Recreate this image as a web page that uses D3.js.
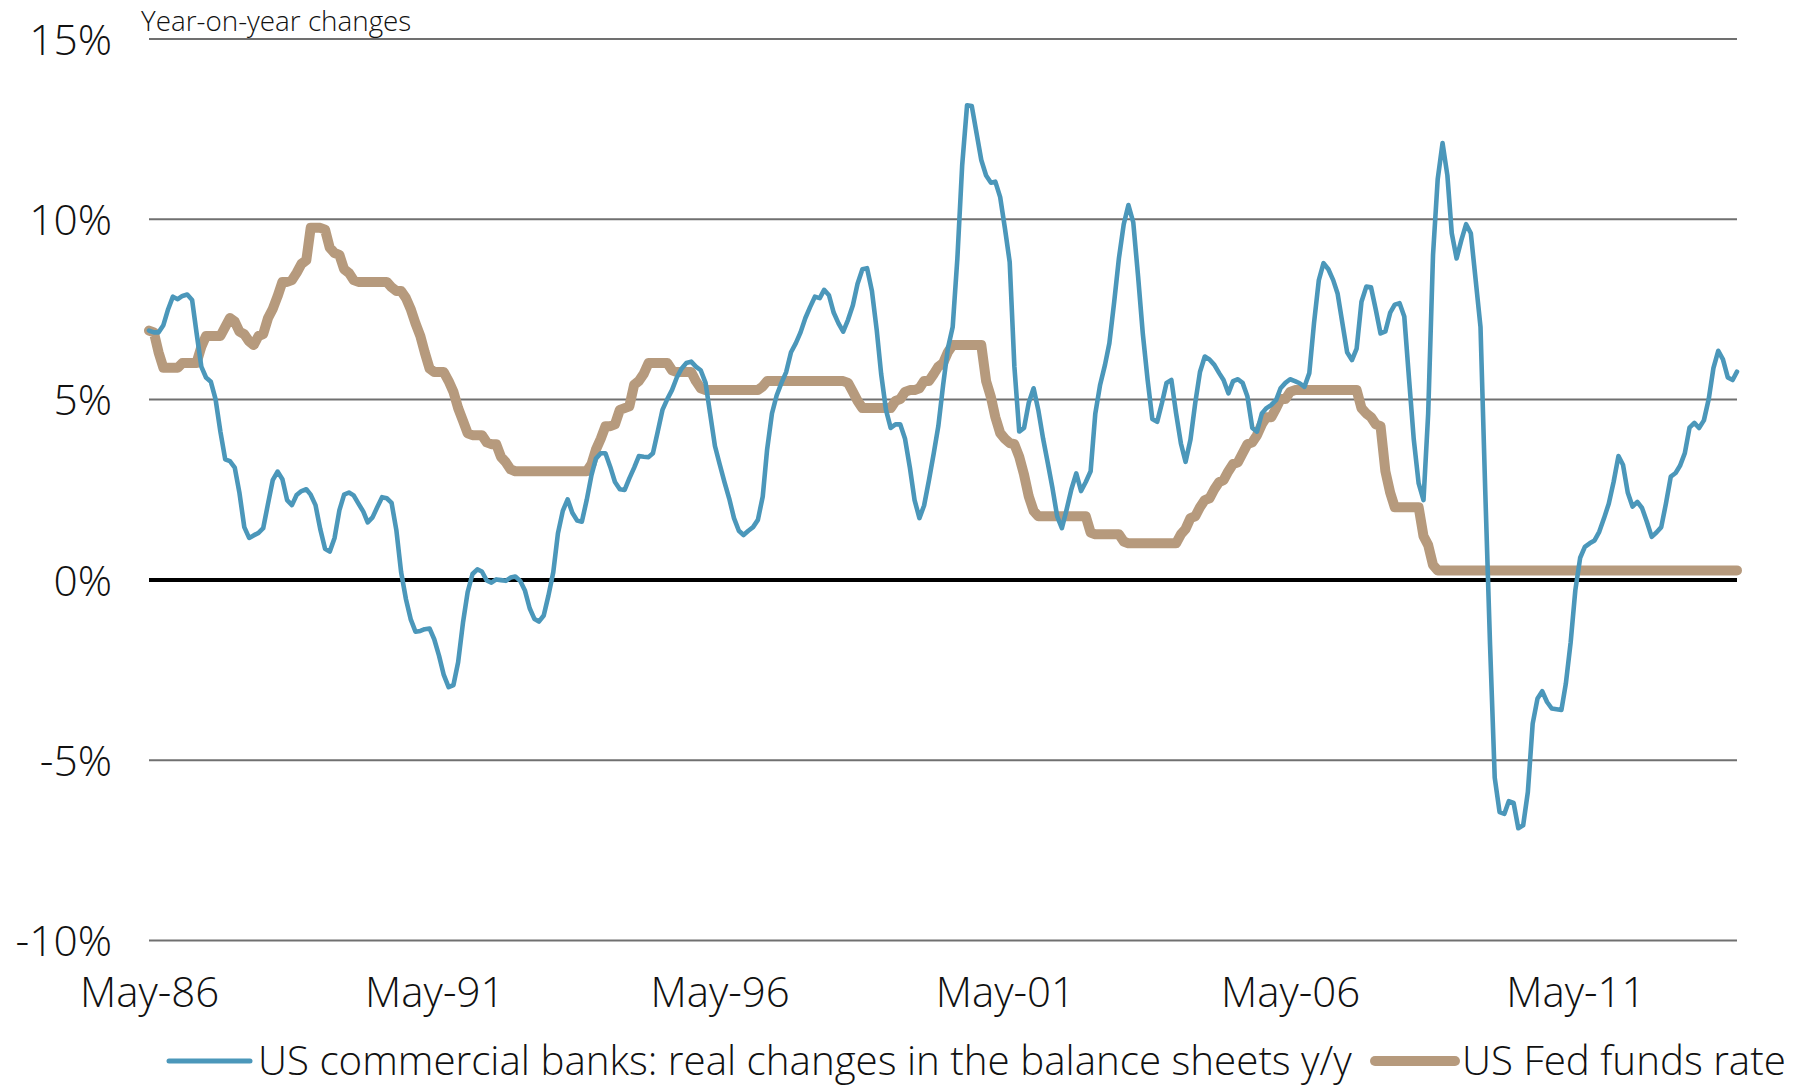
<!DOCTYPE html>
<html>
<head>
<meta charset="utf-8">
<script src="https://cdn.jsdelivr.net/npm/d3@7"></script>
<style>
  html, body { margin: 0; padding: 0; background: #ffffff; }
  svg { display: block; font-family: "Open Sans", "Noto Sans", sans-serif; }
</style>
</head>
<body>
<svg id="chart" width="1801" height="1087"></svg>
<script>
// Monthly observations, first month May 1986, last month March 2014
const firstMonth = new Date(1986, 4, 1);

// US commercial banks: real changes in the balance sheets y/y (%)
const bankBalanceSheets = [
  6.9, 6.85, 6.85, 7.05, 7.5, 7.84, 7.77, 7.86, 7.9, 7.75,
  6.85, 5.9, 5.6, 5.48, 5.0, 4.1, 3.33, 3.28, 3.1, 2.4,
  1.45, 1.15, 1.22, 1.29, 1.42, 2.1, 2.75, 2.99, 2.78, 2.2,
  2.06, 2.34, 2.45, 2.5, 2.35, 2.06, 1.4, 0.85, 0.77, 1.15,
  1.92, 2.35, 2.41, 2.33, 2.1, 1.88, 1.58, 1.72, 2.0, 2.28,
  2.25, 2.12, 1.35, 0.2, -0.55, -1.1, -1.45, -1.43, -1.38, -1.36,
  -1.66, -2.12, -2.65, -2.99, -2.93, -2.3, -1.2, -0.35, 0.15, 0.28,
  0.22, -0.03, -0.09, 0.0, -0.02, -0.04, 0.05, 0.08, -0.04, -0.3,
  -0.8, -1.1, -1.17, -1.0, -0.45, 0.2, 1.28, 1.9, 2.22, 1.85,
  1.63, 1.6, 2.2, 2.9, 3.35, 3.5, 3.5, 3.12, 2.7, 2.5,
  2.48, 2.8, 3.1, 3.42, 3.4, 3.39, 3.5, 4.1, 4.7, 5.0,
  5.25, 5.6, 5.85, 6.0, 6.04, 5.9, 5.8, 5.45, 4.6, 3.7,
  3.2, 2.7, 2.25, 1.7, 1.35, 1.23, 1.35, 1.45, 1.65, 2.3,
  3.6, 4.6, 5.1, 5.45, 5.75, 6.3, 6.55, 6.85, 7.25, 7.55,
  7.84, 7.8, 8.03, 7.88, 7.4, 7.1, 6.87, 7.2, 7.6, 8.2,
  8.6, 8.63, 8.0, 6.9, 5.7, 4.7, 4.2, 4.3, 4.3, 3.9,
  3.1, 2.2, 1.7, 2.05, 2.75, 3.5, 4.25, 5.4, 6.4, 7.0,
  8.9, 11.5, 13.15, 13.13, 12.37, 11.63, 11.2, 11.0, 11.03, 10.6,
  9.75, 8.8, 5.9, 4.1, 4.2, 4.9, 5.3, 4.7, 3.9, 3.2,
  2.55, 1.75, 1.42, 1.95, 2.5, 2.94, 2.45, 2.7, 3.0, 4.6,
  5.4, 5.95, 6.55, 7.7, 8.9, 9.85, 10.38, 9.9, 8.4, 6.82,
  5.53, 4.45, 4.37, 4.9, 5.45, 5.53, 4.61, 3.77, 3.26, 3.87,
  4.9, 5.75, 6.18, 6.1, 5.95, 5.72, 5.53, 5.16, 5.5, 5.55,
  5.45, 5.07, 4.2, 4.1, 4.6, 4.75, 4.84, 4.98, 5.3, 5.45,
  5.55, 5.5, 5.44, 5.34, 5.72, 7.1, 8.3, 8.77, 8.6, 8.3,
  7.93, 7.1, 6.3, 6.08, 6.4, 7.7, 8.12, 8.1, 7.47, 6.82,
  6.88, 7.4, 7.62, 7.66, 7.29, 5.53, 3.87, 2.66, 2.2, 4.6,
  9.0, 11.1, 12.1, 11.2, 9.6, 8.9, 9.4, 9.85, 9.6, 8.3,
  7.0, 2.5, -1.8, -5.5, -6.45, -6.5, -6.15, -6.2, -6.9, -6.82,
  -5.9, -4.0, -3.3, -3.1, -3.4, -3.58, -3.6, -3.62, -2.9, -1.75,
  -0.3, 0.6, 0.9, 1.0, 1.08, 1.32, 1.7, 2.1, 2.7, 3.42,
  3.18, 2.4, 2.02, 2.15, 1.98, 1.6, 1.18, 1.3, 1.45, 2.1,
  2.85, 2.95, 3.15, 3.5, 4.21, 4.34, 4.2, 4.41, 5.0, 5.86,
  6.34, 6.1, 5.6, 5.53, 5.76
];

// US Fed funds rate (%)
const fedFundsRate = [
  6.9, 6.85, 6.3, 5.87, 5.87, 5.87, 5.87, 6.0, 6.0, 6.0,
  6.0, 6.45, 6.75, 6.75, 6.75, 6.75, 7.0, 7.25, 7.15, 6.87,
  6.8, 6.6, 6.5, 6.75, 6.8, 7.25, 7.5, 7.85, 8.25, 8.25,
  8.3, 8.5, 8.75, 8.85, 9.75, 9.75, 9.75, 9.7, 9.2, 9.05,
  9.0, 8.6, 8.5, 8.3, 8.25, 8.25, 8.25, 8.25, 8.25, 8.25,
  8.25, 8.1, 8.0, 8.0, 7.8, 7.5, 7.1, 6.75, 6.3, 5.85,
  5.75, 5.75, 5.75, 5.5, 5.2, 4.75, 4.4, 4.05, 4.0, 4.0,
  4.0, 3.8, 3.75, 3.75, 3.4, 3.25, 3.05, 3.0, 3.0, 3.0,
  3.0, 3.0, 3.0, 3.0, 3.0, 3.0, 3.0, 3.0, 3.0, 3.0,
  3.0, 3.0, 3.0, 3.2, 3.6, 3.9, 4.25, 4.25, 4.3, 4.7,
  4.75, 4.8, 5.4, 5.5, 5.7, 6.0, 6.0, 6.0, 6.0, 6.0,
  5.8, 5.75, 5.75, 5.75, 5.75, 5.5, 5.3, 5.25, 5.25, 5.25,
  5.25, 5.25, 5.25, 5.25, 5.25, 5.25, 5.25, 5.25, 5.25, 5.35,
  5.5, 5.5, 5.5, 5.5, 5.5, 5.5, 5.5, 5.5, 5.5, 5.5,
  5.5, 5.5, 5.5, 5.5, 5.5, 5.5, 5.5, 5.45, 5.2, 4.95,
  4.75, 4.75, 4.75, 4.75, 4.75, 4.75, 4.75, 4.95, 5.0, 5.2,
  5.25, 5.25, 5.3, 5.5, 5.5, 5.7, 5.9, 6.0, 6.3, 6.5,
  6.5, 6.5, 6.5, 6.5, 6.5, 6.5, 5.5, 5.05, 4.5, 4.06,
  3.9, 3.78, 3.75, 3.4, 2.9, 2.3, 1.9, 1.75, 1.75, 1.75,
  1.75, 1.75, 1.75, 1.75, 1.75, 1.75, 1.75, 1.75, 1.3, 1.25,
  1.25, 1.25, 1.25, 1.25, 1.25, 1.05, 1.0, 1.0, 1.0, 1.0,
  1.0, 1.0, 1.0, 1.0, 1.0, 1.0, 1.0, 1.25, 1.4, 1.7,
  1.75, 2.0, 2.2, 2.25, 2.5, 2.7, 2.75, 3.0, 3.2, 3.25,
  3.5, 3.75, 3.8, 4.0, 4.3, 4.5, 4.5, 4.75, 5.0, 5.0,
  5.2, 5.25, 5.25, 5.25, 5.25, 5.25, 5.25, 5.25, 5.25, 5.25,
  5.25, 5.25, 5.25, 5.25, 5.25, 4.75, 4.6, 4.5, 4.3, 4.25,
  3.0, 2.4, 2.0, 2.0, 2.0, 2.0, 2.0, 2.0, 1.2, 0.95,
  0.4, 0.25, 0.25, 0.25, 0.25, 0.25, 0.25, 0.25, 0.25, 0.25,
  0.25, 0.25, 0.25, 0.25, 0.25, 0.25, 0.25, 0.25, 0.25, 0.25,
  0.25, 0.25, 0.25, 0.25, 0.25, 0.25, 0.25, 0.25, 0.25, 0.25,
  0.25, 0.25, 0.25, 0.25, 0.25, 0.25, 0.25, 0.25, 0.25, 0.25,
  0.25, 0.25, 0.25, 0.25, 0.25, 0.25, 0.25, 0.25, 0.25, 0.25,
  0.25, 0.25, 0.25, 0.25, 0.25, 0.25, 0.25, 0.25, 0.25, 0.25,
  0.25, 0.25, 0.25, 0.25, 0.25
];

// Axis ticks
const xTickDates = [new Date(1986, 4, 1), new Date(1991, 4, 1), new Date(1996, 4, 1),
                    new Date(2001, 4, 1), new Date(2006, 4, 1), new Date(2011, 4, 1)];
const yTickValues = [-10, -5, 0, 5, 10, 15];

const seriesNames = ["US commercial banks: real changes in the balance sheets y/y", "US Fed funds rate"];
const axisTitle = "Year-on-year changes";

// Build dated rows
const monthAt = i => d3.timeMonth.offset(firstMonth, i);
const bankRows = bankBalanceSheets.map((v, i) => ({ date: monthAt(i), value: v }));
const fedRows = fedFundsRate.map((v, i) => ({ date: monthAt(i), value: v }));

// Layout
const plot = { left: 149, right: 1737, top: 38.5, bottom: 940 };
const colors = { bank: "#4b97ba", fed: "#b69a7d", grid: "#707070", text: "#111111" };

const svg = d3.select("#chart");

const x = d3.scaleTime()
  .domain([bankRows[0].date, bankRows[bankRows.length - 1].date])
  .range([plot.left, plot.right]);

const y = d3.scaleLinear()
  .domain([-10, 15])
  .range([plot.bottom, plot.top]);

// Horizontal grid and y labels
const yAxis = d3.axisLeft(y)
  .tickValues(yTickValues)
  .tickSizeInner(-(plot.right - plot.left))
  .tickSizeOuter(0)
  .tickPadding(37)
  .tickFormat(d => d + "%");

const gy = svg.append("g")
  .attr("transform", `translate(${plot.left},0)`)
  .call(yAxis);
gy.select(".domain").remove();
gy.selectAll(".tick line")
  .attr("stroke", d => d === 0 ? "#000000" : colors.grid)
  .attr("stroke-width", d => d === 0 ? 4 : 2);
gy.selectAll(".tick text")
  .attr("fill", colors.text)
  .attr("font-size", 42.5)
  .attr("font-weight", 300)
  .attr("font-family", "'Open Sans', sans-serif")
  .attr("dy", "0.37em");

// Zero line drawn above the grid
gy.selectAll(".tick").filter(d => d === 0).raise();

// X labels
const xAxis = d3.axisBottom(x)
  .tickValues(xTickDates)
  .tickSize(0)
  .tickFormat(d3.timeFormat("%b-%y"));

const gx = svg.append("g")
  .attr("transform", `translate(0,${plot.bottom})`)
  .call(xAxis);
gx.select(".domain").remove();
gx.selectAll(".tick text")
  .attr("fill", colors.text)
  .attr("font-size", 42)
  .attr("font-weight", 300)
  .attr("font-family", "'Open Sans', sans-serif")
  .attr("y", 67)
  .attr("dy", 0);

// Title over the value axis
svg.append("text")
  .attr("x", 141)
  .attr("y", 31)
  .attr("font-size", 27.8)
  .attr("font-weight", 300)
  .attr("fill", colors.text)
  .text(axisTitle);

// Lines
const line = d3.line()
  .x(d => x(d.date))
  .y(d => y(d.value));

svg.append("path")
  .datum(fedRows)
  .attr("fill", "none")
  .attr("stroke", colors.fed)
  .attr("stroke-width", 10)
  .attr("stroke-linejoin", "round")
  .attr("stroke-linecap", "round")
  .attr("d", line);

svg.append("path")
  .datum(bankRows)
  .attr("fill", "none")
  .attr("stroke", colors.bank)
  .attr("stroke-width", 4.6)
  .attr("stroke-linejoin", "round")
  .attr("stroke-linecap", "round")
  .attr("d", line);

// Legend
const legendItems = [
  { name: seriesNames[0], color: colors.bank, width: 5, x0: 169, x1: 250, tx: 258 },
  { name: seriesNames[1], color: colors.fed, width: 10, x0: 1375, x1: 1455, tx: 1462 }
];
const legendY = 1061;
const lg = svg.append("g");
legendItems.forEach(item => {
  lg.append("line")
    .attr("x1", item.x0).attr("x2", item.x1)
    .attr("y1", legendY).attr("y2", legendY)
    .attr("stroke", item.color)
    .attr("stroke-width", item.width)
    .attr("stroke-linecap", "round");
  lg.append("text")
    .attr("x", item.tx)
    .attr("y", legendY + 14)
    .attr("font-size", 40.3)
    .attr("font-weight", 300)
    .attr("fill", colors.text)
    .text(item.name);
});
</script>
</body>
</html>
